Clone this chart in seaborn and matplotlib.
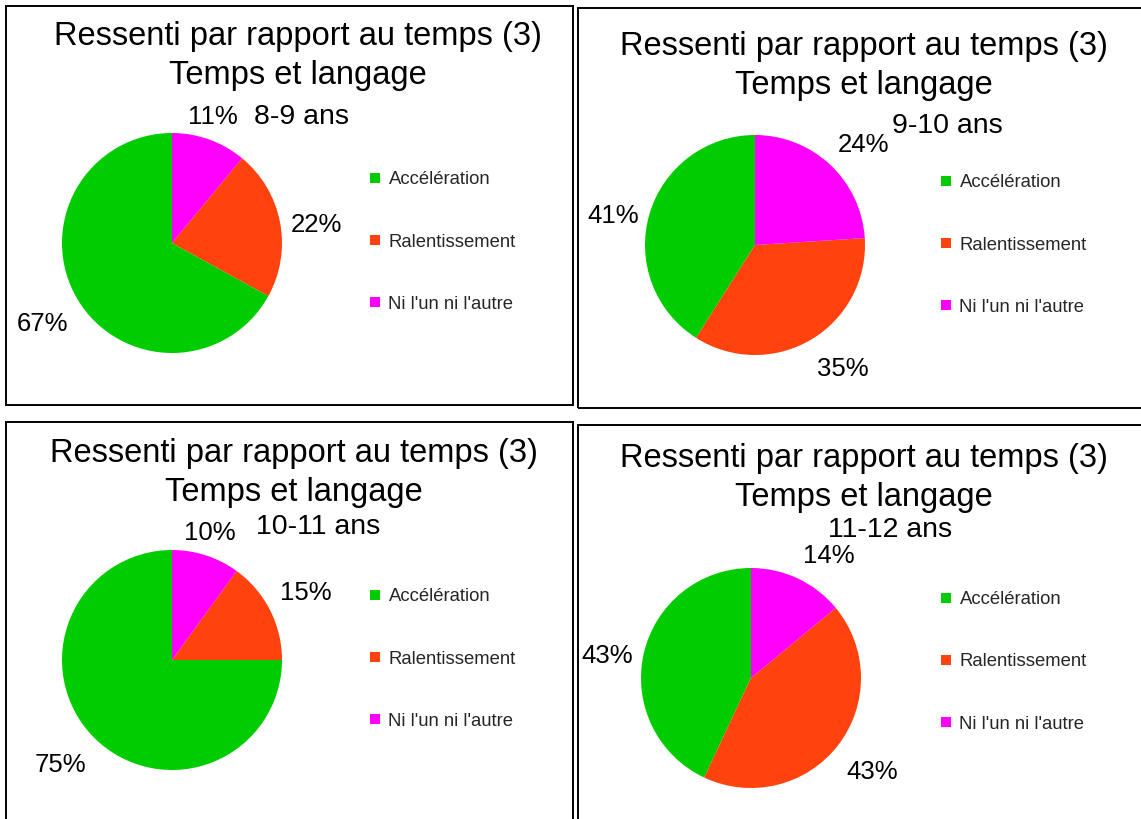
import numpy as np
import matplotlib
matplotlib.use("Agg")
import matplotlib.pyplot as plt
from matplotlib.lines import Line2D
from matplotlib.patches import Rectangle
import seaborn as sns

# ---- data -------------------------------------------------------------
title_line1 = "Ressenti par rapport au temps (3)"
title_line2 = "Temps et langage"
ages = ["8-9 ans", "9-10 ans", "10-11 ans", "11-12 ans"]
categories = ["Accélération", "Ralentissement", "Ni l'un ni l'autre"]
acceleration = [67, 41, 75, 43]
ralentissement = [22, 35, 15, 43]
ni_lun_ni_lautre = [11, 24, 10, 14]

# ---- style ------------------------------------------------------------
sns.set_theme(style="white")
plt.rcParams["font.family"] = ["Liberation Sans", "DejaVu Sans"]
colors = sns.color_palette(["#00CC00", "#FF420E", "#FF00FF"])

W, H = 1141, 819
fig = plt.figure(figsize=(W / 100, H / 100), dpi=100)
fig.patch.set_facecolor("white")


def fx(x):
    return x / W


def fy(y):
    return 1 - y / H


# layout of each panel, in pixels: frame box, title baselines, subtitle
# baseline, pie centre and legend anchor
panels = [
    dict(frame=(6, 6, 573, 405), tx=298, t1=45, t2=84, sub=(302, 124),
         pie=(172, 243), leg=(370, 242)),
    dict(frame=(578, 8, 1150, 408), tx=864, t1=55, t2=94, sub=(947, 133),
         pie=(755, 245), leg=(941, 245)),
    dict(frame=(6, 422, 573, 830), tx=294, t1=462, t2=501, sub=(318, 534),
         pie=(172, 660), leg=(370, 659)),
    dict(frame=(578, 425, 1150, 830), tx=864, t1=467, t2=506, sub=(890, 537),
         pie=(751, 678), leg=(941, 662)),
]
R = 110  # pie radius in pixels

for i, p in enumerate(panels):
    x0, y0, x1, y1 = p["frame"]
    fig.patches.append(Rectangle((fx(x0), fy(y1)), (x1 - x0) / W, (y1 - y0) / H,
                                 transform=fig.transFigure, fill=False,
                                 edgecolor="black", linewidth=1.4, zorder=5))

    fig.text(fx(p["tx"]), fy(p["t1"]), title_line1, ha="center", va="baseline",
             fontsize=23.5, color="black")
    fig.text(fx(p["tx"]), fy(p["t2"]), title_line2, ha="center", va="baseline",
             fontsize=23.5, color="black")
    fig.text(fx(p["sub"][0]), fy(p["sub"][1]), ages[i], ha="center",
             va="baseline", fontsize=20.5, color="black")

    cx, cy = p["pie"]
    ax = fig.add_axes([fx(cx - R), fy(cy + R), 2 * R / W, 2 * R / H])
    values = [acceleration[i], ralentissement[i], ni_lun_ni_lautre[i]]
    wedges, _ = ax.pie(values, colors=colors, startangle=90, counterclock=True,
                       wedgeprops=dict(linewidth=0))
    ax.set_xlim(-1, 1)
    ax.set_ylim(-1, 1)
    ax.set_aspect("equal")
    ax.axis("off")

    # percentage labels just outside each wedge
    for w, v in zip(wedges, values):
        mid = np.deg2rad((w.theta1 + w.theta2) / 2)
        c, s = np.cos(mid), np.sin(mid)
        ha = "left" if c > 0.38 else ("right" if c < -0.38 else "center")
        if s > 0.35:
            va, dy = "bottom", 0.0
        elif s < -0.35:
            va, dy = "top", -5.5
        else:
            va, dy = "center", -3.5
        ax.annotate(f"{v}%", xy=(c, s), xytext=(8 * c, 8 * s + dy),
                    textcoords="offset points", ha=ha, va=va,
                    fontsize=18.5, color="black", annotation_clip=False)

    handles = [Line2D([], [], marker="s", linestyle="none", markersize=7.5,
                      markerfacecolor=col, markeredgewidth=0) for col in colors]
    lx, ly = p["leg"]
    fig.legend(handles, categories, loc="center left",
               bbox_to_anchor=(fx(lx), fy(ly)), bbox_transform=fig.transFigure,
               frameon=False, fontsize=13.3, handlelength=0.55,
               handletextpad=0.45, labelspacing=2.45, borderpad=0,
               borderaxespad=0)

fig.savefig("out.png", dpi=100, facecolor="white")
